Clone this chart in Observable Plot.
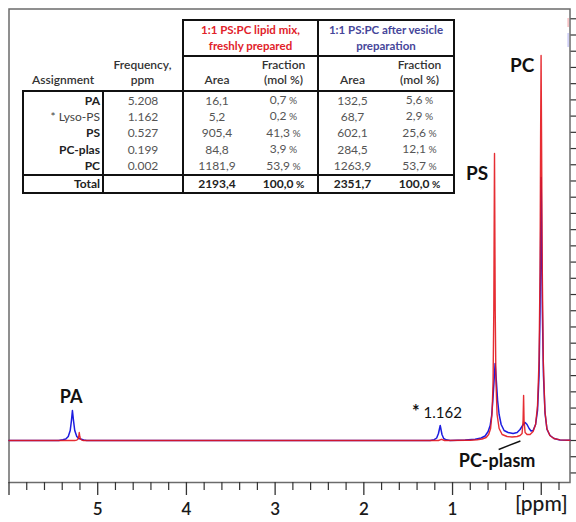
<!DOCTYPE html>
<html>
<head>
<meta charset="utf-8">
<script src="https://cdn.jsdelivr.net/npm/d3@7"></script>
<script src="https://cdn.jsdelivr.net/npm/@observablehq/plot@0.6"></script>
<style>
  html, body { margin: 0; padding: 0; background: #fff; overflow: hidden; }
  #wrap { position: relative; width: 576px; height: 522px; font-family: Lato, "Open Sans", sans-serif; }
  #wrap svg { display: block; }
  #tbl { position: absolute; left: 22px; top: 19px; }
  #tbl table { border-collapse: collapse; table-layout: fixed; font-size: 12px; color: #555; }
  #tbl td { padding: 0; text-align: center; vertical-align: middle; white-space: nowrap; line-height: 15px; }
  #tbl .grp { border: 2.5px solid #111; font-weight: 700; font-size: 11.5px; line-height: 16px; }
  #tbl .red { color: #e1222a; }
  #tbl .blue { color: #46469a; }
  #tbl .hd { border-bottom: 2.5px solid #111; vertical-align: bottom; padding-bottom: 3px; color: #333; font-weight: 600; }
  #tbl .L { border-left: 2.5px solid #111; }
  #tbl .R { border-right: 2.5px solid #111; }
  #tbl .T { border-top: 2.5px solid #111; border-bottom: 2.5px solid #111; }
  #tbl .asg { text-align: right; padding-right: 2px; color: #222; font-weight: 700; }
  #tbl .asg.plain { font-weight: 400; color: #444; }
  #tbl .tot { font-weight: 700; color: #222; }
  #tbl .pc { font-size: 0.85em; }
</style>
</head>
<body>
<div id="wrap"></div>
<script>
// 1H NMR spectra: chemical shift (ppm) and intensity (arbitrary units)
const freshPpm = [6.0, 5.26, 5.235, 5.222, 5.214, 5.208, 5.202, 5.194, 5.18, 5.16,
  1.16, 1.125, 1.09,
  0.85, 0.801, 0.723, 0.666, 0.621, 0.593, 0.571, 0.554, 0.543, 0.535, 0.529, 0.527, 0.525, 0.519, 0.511,
  0.498, 0.475, 0.441, 0.385, 0.329, 0.272, 0.239, 0.216, 0.205, 0.199, 0.194, 0.182, 0.16, 0.126,
  0.092, 0.064, 0.042, 0.025, 0.0135, 0.0075, 0.002, -0.0035, -0.0115, -0.0228, -0.0408, -0.063,
  -0.097, -0.142, -0.21, -0.324];
const freshInt = [0, 0, 0.4, 1.5, 4, 8, 4, 1.5, 0.4, 0,
  0, 1.2, 0,
  0.2, 0.3, 0.8, 1.5, 3, 6, 12, 28, 60, 130, 250, 287, 250, 130, 60,
  26, 12, 6, 4, 3.5, 4, 5, 7, 20, 45, 20, 8, 6, 6,
  9, 16, 35, 80, 170, 300, 385, 300, 170, 80, 30, 12,
  5, 2, 0.6, 0.2];

const vesiclePpm = [6.0, 5.439, 5.394, 5.36, 5.332, 5.31, 5.296, 5.285, 5.273, 5.259, 5.236, 5.214, 5.192, 5.158, 5.124,
  1.252, 1.207, 1.179, 1.159, 1.149, 1.139, 1.13, 1.119, 1.1, 1.072, 1.027,
  0.858, 0.745, 0.678, 0.633, 0.599, 0.576, 0.559, 0.546, 0.533, 0.525, 0.52, 0.514, 0.505, 0.492,
  0.475, 0.452, 0.419, 0.374, 0.317, 0.272, 0.239, 0.21, 0.182, 0.16, 0.137, 0.115, 0.092, 0.064,
  0.042, 0.025, 0.0135, 0.0068, 0.001, -0.0045, -0.0124, -0.0248, -0.0428, -0.065, -0.099, -0.144,
  -0.212, -0.324];
const vesicleInt = [0, 0, 0.8, 1.5, 4, 10, 20, 30, 20, 10, 4, 2, 1.5, 0.5, 0,
  0, 0.8, 2.5, 7, 11, 15, 11, 6, 2, 0.7, 0,
  0.5, 1.2, 2.5, 4.5, 9, 15, 25, 40, 58, 70, 77, 70, 58, 40,
  26, 16, 10, 8, 7, 8, 11, 15, 18, 16, 12, 9.5, 10, 16,
  30, 65, 130, 200, 263, 200, 130, 65, 27, 11, 5, 2,
  0.6, 0.2];

// peak assignment table
const groupTitles = [["1:1 PS:PC lipid mix,", "freshly prepared"], ["1:1 PS:PC after vesicle", "preparation"]];
const assignments = ["PA", "* Lyso-PS", "PS", "PC-plas", "PC"];
const frequencies = ["5.208", "1.162", "0.527", "0.199", "0.002"];
const freshArea = ["16,1", "5,2", "905,4", "84,8", "1181,9"];
const freshFraction = ["0,7", "0,2", "41,3", "3,9", "53,9"];
const vesicleArea = ["132,5", "68,7", "602,1", "284,5", "1263,9"];
const vesicleFraction = ["5,6", "2,9", "25,6", "12,1", "53,7"];
const totals = ["2193,4", "100,0", "2351,7", "100,0"];

// axis ticks
const majorTicks = [6, 5, 4, 3, 2, 1, 0];
const majorLabels = ["", "5", "4", "3", "2", "1", ""];
const minorTicks = d3.range(-0.2, 6, 0.2).filter(t => Math.abs(t - Math.round(t)) > 0.05);
const intensityTicks = d3.range(-2, 27).map(k => k * 16.22);

// peak labels
const noteText = ["PA", "PS", "PC", "* 1.162", "PC-plasm"];
const notePpm = [5.30, 0.723, 0.216, 1.176, 0.498];
const noteInt = [43, 267, 375, 27, -21];
const noteSize = [18, 19, 19, 15, 18];
const noteWeight = [700, 700, 700, 400, 700];

const fresh = freshPpm.map((p, i) => ({ppm: p, h: freshInt[i]}));
const vesicle = vesiclePpm.map((p, i) => ({ppm: p, h: vesicleInt[i]}));
const notes = noteText.map((t, i) => ({t, ppm: notePpm[i], h: noteInt[i], size: noteSize[i], w: noteWeight[i]}));

const chart = Plot.plot({
  width: 576,
  height: 522,
  marginLeft: 8.5,
  marginRight: 6.5,
  marginTop: 8.5,
  marginBottom: 40,
  style: {fontFamily: "Lato, 'Open Sans', sans-serif", background: "transparent", overflow: "visible"},
  x: {domain: [6, -0.324], axis: null},
  y: {domain: [-42, 431.5], axis: null},
  marks: [
    Plot.frame({stroke: "#6b6b6b", strokeWidth: 1.5}),
    Plot.axisX({ticks: minorTicks, tickSize: 8, tickFormat: () => "", label: null, stroke: "#333", strokeWidth: 1.2}),
    Plot.axisX({ticks: majorTicks, tickSize: 13, tickPadding: 7, label: null, stroke: "#333", strokeWidth: 1.3,
      tickFormat: d => majorLabels[majorTicks.indexOf(d)], fontSize: 17, fontWeight: 600, fill: "#1a1a1a"}),
    Plot.text(["[ppm]"], {x: 0, frameAnchor: "bottom", dy: 28, fontSize: 21, fontWeight: 500, fill: "#1a1a1a"}),
    Plot.axisY({anchor: "right", ticks: intensityTicks, tickSize: 8, tickFormat: () => "", label: null, stroke: "#333", strokeWidth: 1.2}),
    Plot.ruleX([{x: -0.303, a: 413, b: 422}], {x: "x", y1: "a", y2: "b", stroke: "#e1222a", strokeOpacity: 0.3, strokeWidth: 1.5}),
    Plot.ruleX([{x: -0.303, a: 393, b: 407}], {x: "x", y1: "a", y2: "b", stroke: "#2b2bd9", strokeOpacity: 0.25, strokeWidth: 1.5}),
    Plot.line(vesicle, {x: "ppm", y: "h", stroke: "#1d1de0", strokeWidth: 1.5}),
    Plot.line(fresh, {x: "ppm", y: "h", stroke: "#e3161d", strokeWidth: 1.4, strokeOpacity: 0.9}),
    Plot.link([{x1: 0.48, y1: -9, x2: 0.235, y2: -0.5}], {x1: "x1", y1: "y1", x2: "x2", y2: "y2", stroke: "#111", strokeWidth: 1.4}),
    Plot.text(notes, {x: "ppm", y: "h", text: "t", fill: "#111"})
  ]
});

const wrap = document.getElementById("wrap");
wrap.appendChild(chart);
// per-label font size and weight; the asterisk of the lyso-PS label is set heavier
chart.querySelectorAll("text").forEach(el => {
  const t = el.textContent;
  const n = notes.find(d => d.t === t);
  if (!n) return;
  el.setAttribute("font-size", n.size);
  el.setAttribute("font-weight", n.w);
  if (t.startsWith("* ")) {
    el.textContent = "";
    const star = document.createElementNS("http://www.w3.org/2000/svg", "tspan");
    star.setAttribute("font-weight", 700);
    star.setAttribute("font-size", 18);
    star.textContent = "*";
    const rest = document.createElementNS("http://www.w3.org/2000/svg", "tspan");
    rest.textContent = " " + t.slice(2);
    el.appendChild(star);
    el.appendChild(rest);
  }
});

// table overlay
const pct = v => `${v}<span class="pc"> %</span>`;
let html = `<table>
<colgroup><col style="width:80px"><col style="width:80px"><col style="width:67px"><col style="width:68px"><col style="width:68px"><col style="width:68px"></colgroup>
<tr style="height:36px"><td colspan="2"></td>
<td colspan="2" class="grp red">${groupTitles[0].join("<br>")}</td>
<td colspan="2" class="grp blue">${groupTitles[1].join("<br>")}</td></tr>
<tr style="height:35px">
<td class="hd">Assignment</td><td class="hd">Frequency,<br>ppm</td>
<td class="hd L">Area</td><td class="hd R">Fraction<br>(mol %)</td>
<td class="hd">Area</td><td class="hd R">Fraction<br>(mol %)</td></tr>`;
assignments.forEach((a, i) => {
  html += `<tr style="height:16.6px">
<td class="asg L R${a.startsWith("*") ? " plain" : ""}">${a}</td>
<td class="R">${frequencies[i]}</td>
<td>${freshArea[i]}</td><td class="R">${pct(freshFraction[i])}</td>
<td>${vesicleArea[i]}</td><td class="R">${pct(vesicleFraction[i])}</td></tr>`;
});
html += `<tr style="height:16px">
<td class="asg L R T">Total</td><td class="R T"></td>
<td class="T tot">${totals[0]}</td><td class="R T tot">${pct(totals[1])}</td>
<td class="T tot">${totals[2]}</td><td class="R T tot">${pct(totals[3])}</td></tr></table>`;
const tbl = document.createElement("div");
tbl.id = "tbl";
tbl.innerHTML = html;
wrap.appendChild(tbl);
</script>
</body>
</html>
